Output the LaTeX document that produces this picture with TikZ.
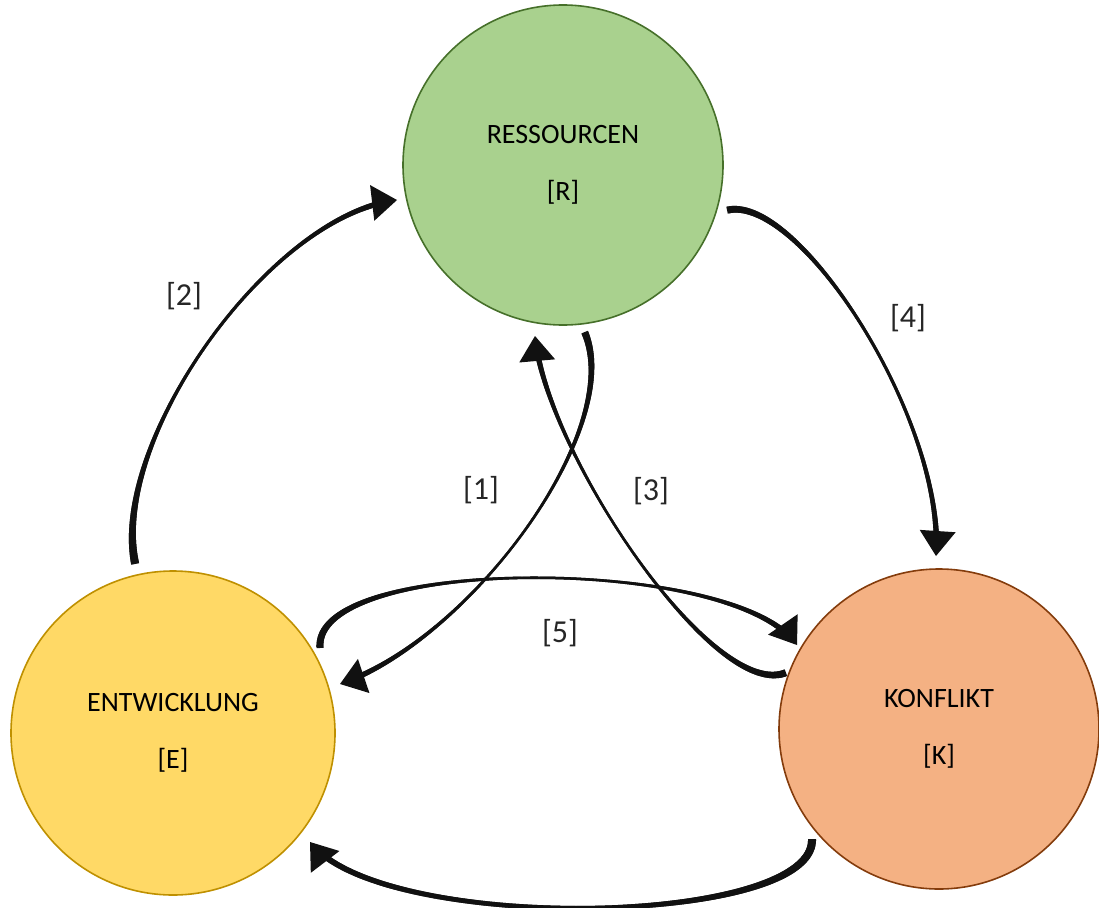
\documentclass[tikz,border=0pt]{standalone}
\usepackage{fontspec}
\setmainfont{Carlito}
\usetikzlibrary{calc,decorations.markings}

\definecolor{resfill}{HTML}{A9D18E}
\definecolor{resline}{HTML}{46702A}
\definecolor{entfill}{HTML}{FFD966}
\definecolor{entline}{HTML}{BF9000}
\definecolor{konfill}{HTML}{F4B183}
\definecolor{konline}{HTML}{843C0C}
\definecolor{ink}{HTML}{111111}

\tikzset{
  state/.style={circle, draw, line width=1.6pt, minimum size=#1, inner sep=0pt,
    align=center, font=\fontsize{28}{57}\selectfont},
  lbl/.style={font=\fontsize{32}{34}\selectfont, text=black!85},
}

% width profile of a tapered stroke: thick at both ends, thin in the middle
\newcommand\tapermark{%
  \pgfmathsetmacro\tapd{\pgfkeysvalueof{/pgf/decoration/mark info/distance from start}}%
  \pgfmathsetmacro\taplen{\pgfdecoratedpathlength}%
  \pgfmathsetmacro\tapt{\tapd/\taplen}%
  \pgfmathsetmacro\tapw{\tapt<0.5 ? \tapmid+(\tapbeg-\tapmid)*(1-2*\tapt)^2 : \tapmid+(\tapfin-\tapmid)*(2*\tapt-1)^2}%
  \pgfmathsetmacro\taplim{\taplen-12}%
  \ifdim\tapd pt<\taplim pt
    \fill[ink] (-1pt,-0.5*\tapw pt) rectangle (1pt,0.5*\tapw pt);
  \fi
}

% #1 start, #2 #3 controls, #4 tip, #5 start width, #6 middle width, #7 end width
\newcommand\taperarrow[7]{%
  \def\tapbeg{#5}\def\tapmid{#6}\def\tapfin{#7}%
  \path[decorate, decoration={markings,
      mark=between positions 0 and 1 step 1pt with {\tapermark}}]
    (#1) .. controls (#2) and (#3) .. (#4);
  % head along the end tangent (second control point -> tip)
  \fill[ink] (#4) -- ($(#4)!25pt!(#3)!18pt!90:(#4)$)
                  -- ($(#4)!25pt!(#3)!18pt!-90:(#4)$) -- cycle;
}

\begin{document}
\begin{tikzpicture}[x=1pt,y=-1pt]
\useasboundingbox (0,0) rectangle (1099,907);

% the three states
\node[state=320pt, fill=resfill, draw=resline] (R) at (563,165) {RESSOURCEN\\{}[R]};
\node[state=324pt, fill=entfill, draw=entline] (E) at (173,733) {ENTWICKLUNG\\{}[E]};
\node[state=320pt, fill=konfill, draw=konline] (K) at (939,729) {KONFLIKT\\{}[K]};

% end points of the connectors
\coordinate (s2) at (135,563);  \coordinate (t2) at (397,200);
\coordinate (s4) at (728,210);  \coordinate (t4) at (936,556);
\coordinate (s1) at (585,333);  \coordinate (t1) at (340,684);
\coordinate (s3) at (785,673);  \coordinate (t3) at (535,336);
\coordinate (s5) at (320,647);  \coordinate (t5) at (797,645);
\coordinate (s6) at (812,840);  \coordinate (t6) at (310,842);

% E -> R
\taperarrow{s2}{110,440}{270,215}{t2}{8}{3}{6}
% R -> K
\taperarrow{s4}{800,195}{945,420}{t4}{7}{3}{6}
% R -> E
\taperarrow{s1}{625,430}{470,640}{t1}{7}{2.5}{6}
% K -> R
\taperarrow{s3}{712,700}{545,450}{t3}{7}{2.5}{6}
% E -> K
\taperarrow{s5}{315,555}{735,555}{t5}{7}{2.5}{6}
% K -> E
\taperarrow{s6}{812,927}{380,934}{t6}{8}{4.5}{6}

% connector labels
\node[lbl] (l2) at (184,296) {[2]};
\node[lbl] (l4) at (908,318) {[4]};
\node[lbl] (l1) at (481,490) {[1]};
\node[lbl] (l3) at (651,491) {[3]};
\node[lbl] (l5) at (560,633) {[5]};
\end{tikzpicture}
\end{document}
